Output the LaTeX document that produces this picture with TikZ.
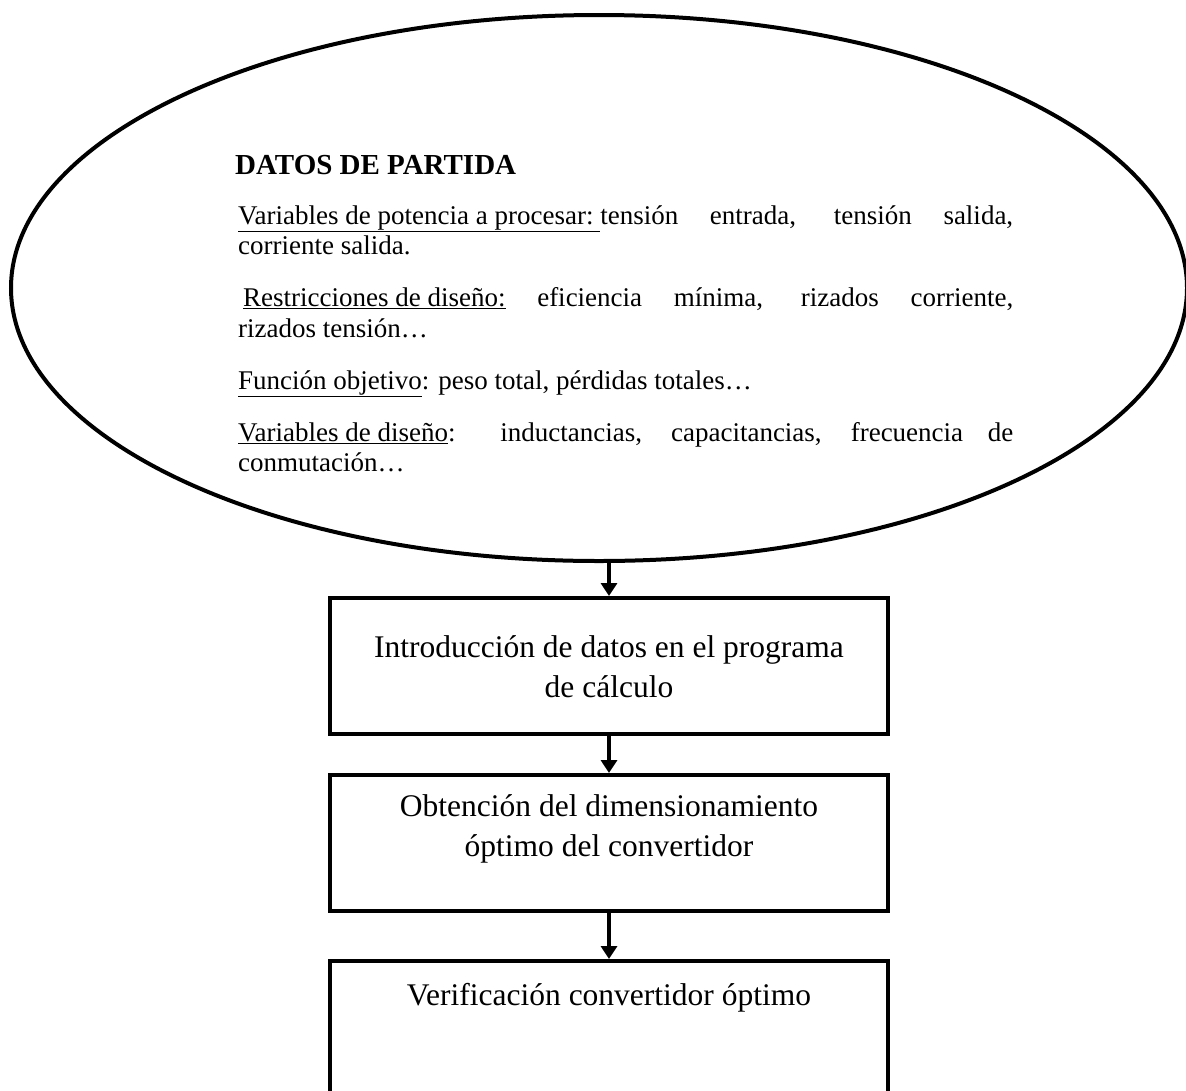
\documentclass[tikz,border=0pt]{standalone}
\usepackage{fontspec}
\setmainfont{Liberation Serif}
\usetikzlibrary{shapes.geometric,arrows.meta}
\begin{document}
\begin{tikzpicture}[x=1pt,y=-1pt,
  outline/.style={draw, line width=4pt},
  ell/.style={outline, ellipse, inner sep=0pt, minimum width=1176pt, minimum height=546pt},
  boxshape/.style={outline, rectangle, inner sep=0pt, minimum width=558pt},
  boxtext/.style={align=center, font=\fontsize{31.5}{40}\selectfont, inner sep=0pt},
  body/.style={text width=775pt, align=justify, font=\fontsize{27}{30.5}\selectfont, inner sep=0pt, anchor=north west},
  titlestyle/.style={font=\fontsize{29}{32}\selectfont\bfseries, inner sep=0pt, anchor=base west},
  flow/.style={line width=3.6pt, -{Triangle[width=16pt,length=13pt]}}
]
\useasboundingbox (0,0) rectangle (1186,1090);
\node[ell] (e) at (599,288) {};
\node[titlestyle] (title) at (235,174.5) {DATOS DE PARTIDA};
\node[body] (txt) at (238,202.6) {\setlength{\parskip}{21.5pt}\strut\underline{Variables de potencia a procesar:\ }tensión entrada, tensión salida,\linebreak corriente salida.\par
\hspace*{5pt}\underline{Restricciones de diseño:} eficiencia mínima, rizados corriente,\linebreak rizados tensión…\par
\underline{Función objetivo}: peso total, pérdidas totales…\par
\underline{Variables de diseño}: inductancias, capacitancias, frecuencia de\linebreak conmutación…};
\node[boxshape, minimum height=136pt] (b1) at (609,666) {};
\node[boxtext] (t1) at (609,667) {Introducción de datos en el programa\\de cálculo};
\node[boxshape, minimum height=136pt] (b2) at (609,843) {};
\node[boxtext] (t2) at (609,829) {Obtención del dimensionamiento\\óptimo del convertidor};
\node[boxshape, minimum height=160pt, anchor=north] (b3) at (609,959) {};
\node[boxtext] (t3) at (609,998) {Verificación convertidor óptimo};
\draw[flow] (b1.north |- e.south) -- (b1.north);
\draw[flow] (b1.south) -- (b2.north);
\draw[flow] (b2.south) -- (b3.north);
\end{tikzpicture}
\end{document}
